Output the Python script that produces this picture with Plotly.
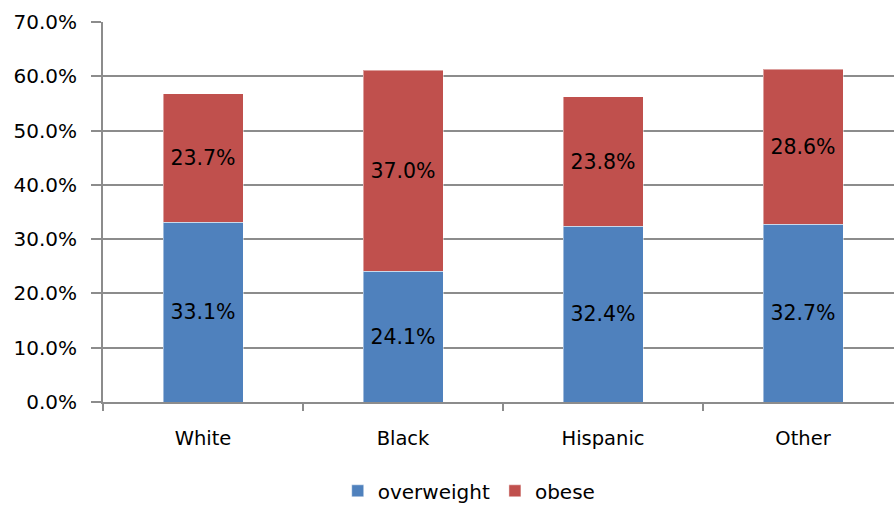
import plotly.graph_objects as go

# Share of adults by weight status and race/ethnicity (percent)
categories = ["White", "Black", "Hispanic", "Other"]
overweight = [33.1, 24.1, 32.4, 32.7]
obese = [23.7, 37.0, 23.8, 28.6]
y_ticks = [0, 10, 20, 30, 40, 50, 60, 70]
y_tick_labels = [f"{v:.1f}%" for v in y_ticks]

FONT = "DejaVu Sans"
GRID = "#8c8c8c"

fig = go.Figure()
fig.add_trace(go.Bar(
    name="overweight", x=categories, y=overweight,
    marker=dict(color="#4F81BD", line=dict(color="rgba(255,255,255,0.45)", width=1)),
    text=[f"{v:.1f}%" for v in overweight], textposition="inside",
    insidetextanchor="middle", textangle=0,
    textfont=dict(family=FONT, size=20.5, color="#000000"),
))
fig.add_trace(go.Bar(
    name="obese", x=categories, y=obese,
    marker=dict(color="#C0504D", line=dict(color="rgba(255,255,255,0.45)", width=1)),
    text=[f"{v:.1f}%" for v in obese], textposition="inside",
    insidetextanchor="middle", textangle=0,
    textfont=dict(family=FONT, size=20.5, color="#000000"),
))

fig.update_layout(
    barmode="stack",
    bargap=0.6,
    width=894, height=506,
    margin=dict(l=103, r=0, t=22, b=104),
    paper_bgcolor="white", plot_bgcolor="white",
    font=dict(family=FONT, size=20, color="#000000"),
    legend=dict(
        orientation="h", xref="paper", yref="container",
        x=0.463, xanchor="center", y=0.03, yanchor="middle",
        traceorder="normal",
        font=dict(family=FONT, size=20),
        itemwidth=30, tracegroupgap=0,
    ),
    xaxis=dict(
        range=[-0.5, 3.455],
        showgrid=False, showline=True, linecolor=GRID, linewidth=2,
        ticks="outside", tickson="boundaries", ticklen=7, tickcolor=GRID, tickwidth=2,
        ticklabelstandoff=18,
        tickfont=dict(family=FONT, size=19.5),
    ),
    yaxis=dict(
        range=[0, 70], tickvals=y_ticks, ticktext=y_tick_labels,
        showgrid=True, gridcolor=GRID, gridwidth=2,
        showline=True, linecolor=GRID, linewidth=2,
        ticks="outside", ticklen=10, tickcolor=GRID, tickwidth=2,
        ticklabelstandoff=10,
        tickfont=dict(family=FONT, size=20),
        zeroline=False,
    ),
)

fig.write_html("out.html")
